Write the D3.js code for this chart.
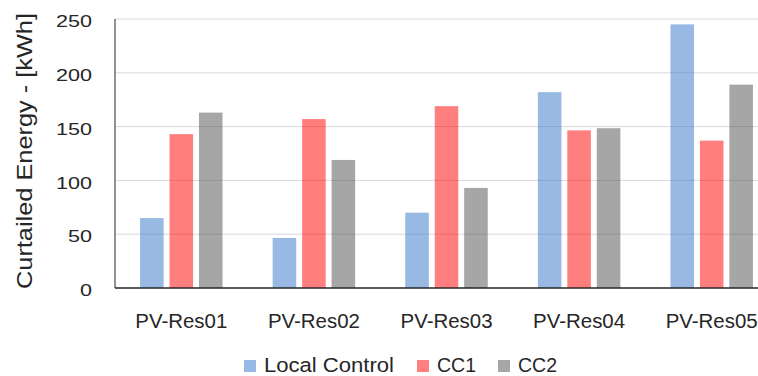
<!DOCTYPE html>
<html>
<head>
<meta charset="utf-8">
<script src="https://cdn.jsdelivr.net/npm/d3@7"></script>
<style>
  body { margin: 0; background: #fff; }
  svg { display: block; overflow: hidden; }
  text { font-family: "Liberation Sans", Arial, sans-serif; fill: #262626; }
</style>
</head>
<body>
<figure id="chart" style="margin:0"></figure>
<script>
const categories = ["PV-Res01", "PV-Res02", "PV-Res03", "PV-Res04", "PV-Res05"];
const seriesNames = ["Local Control", "CC1", "CC2"];
const localControl = [65, 46.5, 70, 182, 245];
const cc1 = [143, 157, 169, 146.5, 137];
const cc2 = [163, 119, 93, 148.5, 189];
const yTicks = [0, 50, 100, 150, 200, 250];
const colors = ["rgba(49,115,199,0.5)", "rgba(255,0,0,0.5)", "rgba(77,77,77,0.5)"];

const width = 758, height = 376;
const margin = {left: 115, top: 19, right: -20, bottom: 88};
const values = [localControl, cc1, cc2];

const svg = d3.select("figure#chart")
  .append("svg")
  .attr("width", width)
  .attr("height", height);

const x0 = d3.scaleBand()
  .domain(categories)
  .range([margin.left, width - margin.right])
  .paddingInner(0.378)
  .paddingOuter(0.189);

const x1 = d3.scaleBand()
  .domain(seriesNames)
  .range([0, x0.bandwidth()])
  .paddingInner(0.2);

const y = d3.scaleLinear()
  .domain([0, 250])
  .range([height - margin.bottom, margin.top]);

// gridlines
svg.append("g")
  .selectAll("line")
  .data(yTicks.slice(1))
  .enter()
  .append("line")
  .attr("x1", margin.left)
  .attr("x2", width)
  .attr("y1", d => y(d))
  .attr("y2", d => y(d))
  .attr("stroke", "#d9d9d9")
  .attr("stroke-width", 1);

// y axis labels
svg.append("g")
  .selectAll("text")
  .data(yTicks)
  .enter()
  .append("text")
  .attr("x", 92)
  .attr("y", d => y(d))
  .attr("dy", "0.48em")
  .attr("text-anchor", "end")
  .style("font-size", "17px")
  .attr("textLength", d => String(d).length * 12)
  .attr("lengthAdjust", "spacingAndGlyphs")
  .text(d => d);

// bars
categories.forEach((cat, i) => {
  svg.append("g")
    .attr("transform", "translate(" + x0(cat) + ",0)")
    .selectAll("rect")
    .data(seriesNames.map((s, j) => ({s: s, v: values[j][i], c: colors[j]})))
    .enter()
    .append("rect")
    .attr("x", d => x1(d.s))
    .attr("y", d => y(d.v))
    .attr("width", x1.bandwidth())
    .attr("height", d => y(0) - y(d.v))
    .attr("fill", d => d.c);
});

// axis lines
svg.append("line")
  .attr("x1", margin.left).attr("x2", margin.left)
  .attr("y1", margin.top).attr("y2", y(0))
  .attr("stroke", "#262626").attr("stroke-width", 1);
svg.append("line")
  .attr("x1", margin.left).attr("x2", width)
  .attr("y1", y(0)).attr("y2", y(0))
  .attr("stroke", "#262626").attr("stroke-width", 1.5);

// x labels
svg.append("g")
  .selectAll("text")
  .data(categories)
  .enter()
  .append("text")
  .attr("x", d => x0(d) + x0.bandwidth() / 2)
  .attr("y", 328)
  .attr("text-anchor", "middle")
  .style("font-size", "20.5px")
  .attr("textLength", 92)
  .attr("lengthAdjust", "spacingAndGlyphs")
  .text(d => d);

// y title
svg.append("text")
  .attr("transform", "translate(32,151) rotate(-90)")
  .attr("text-anchor", "middle")
  .style("font-size", "22px")
  .attr("textLength", 276)
  .attr("lengthAdjust", "spacingAndGlyphs")
  .text("Curtailed Energy - [kWh]");

// legend
const legendX = [244, 417, 498];
const legendW = [130, 39, 39];
const legend = svg.append("g")
  .selectAll("g")
  .data(seriesNames)
  .enter()
  .append("g")
  .attr("transform", (d, i) => "translate(" + legendX[i] + ",360)");
legend.append("rect")
  .attr("width", 12).attr("height", 12)
  .attr("fill", (d, i) => colors[i]);
legend.append("text")
  .attr("x", 20).attr("y", 12)
  .style("font-size", "20.5px")
  .attr("textLength", (d, i) => legendW[i])
  .attr("lengthAdjust", "spacingAndGlyphs")
  .text(d => d);
</script>
</body>
</html>
